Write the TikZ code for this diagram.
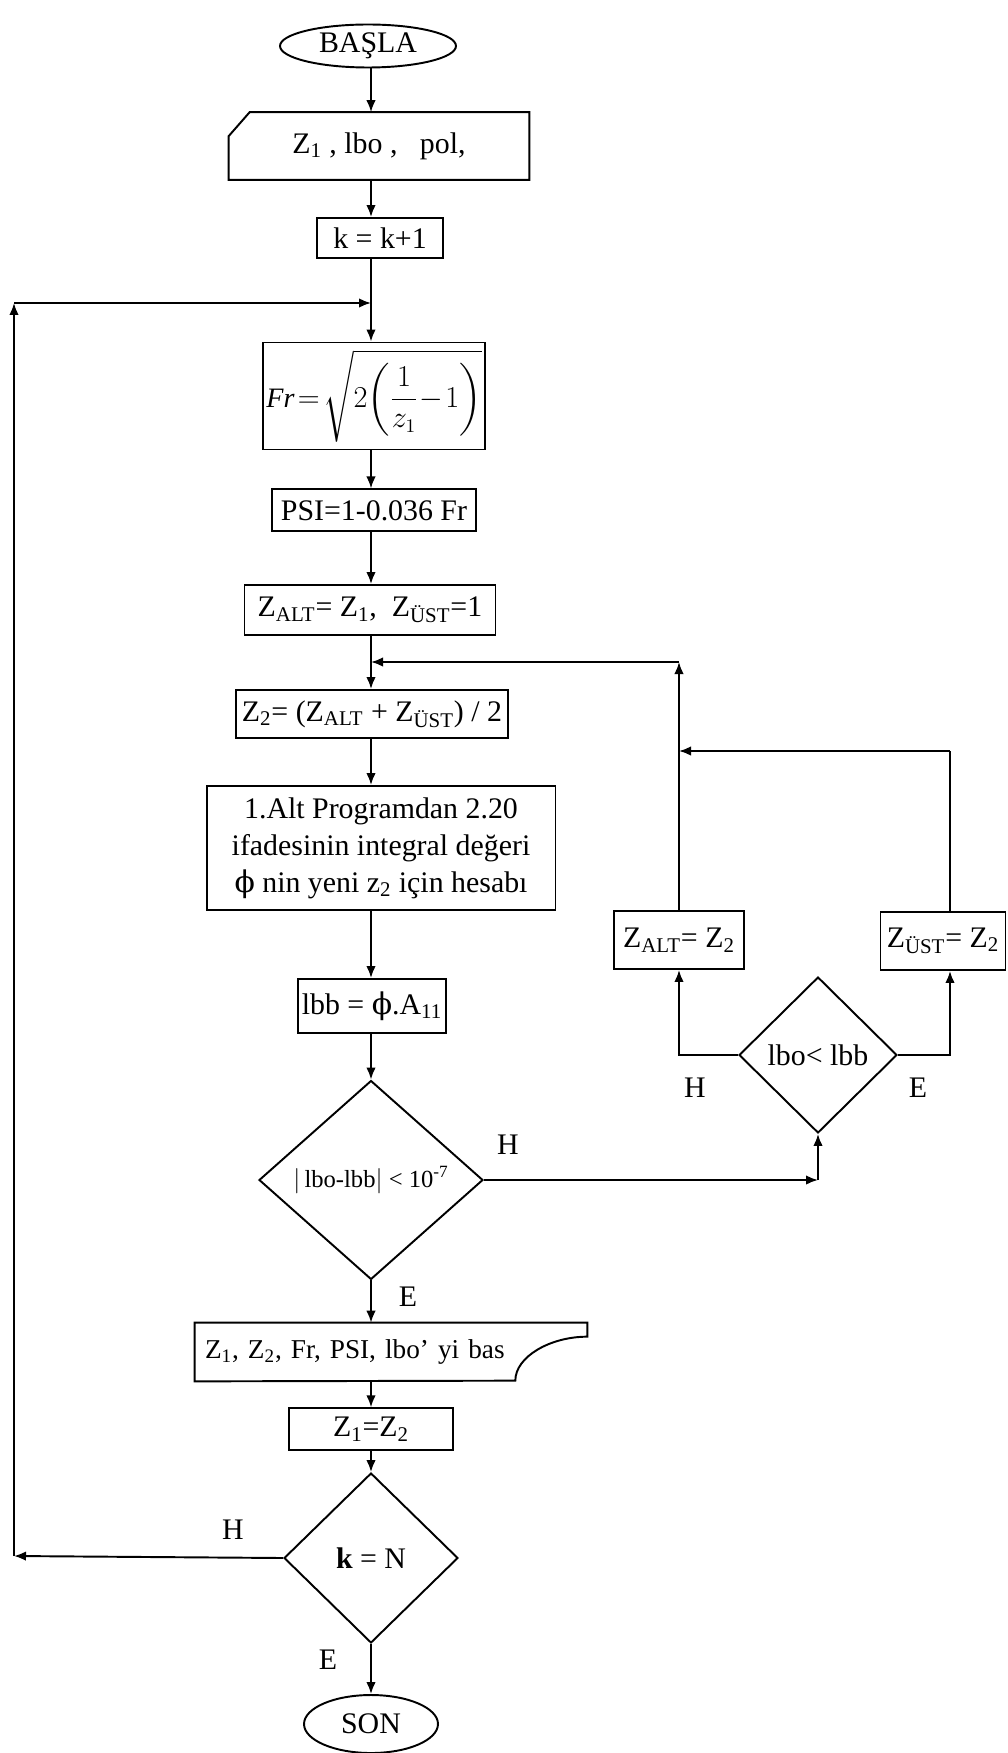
\documentclass[tikz,border=0pt]{standalone}
\usepackage{amsmath}
\usepackage{fontspec}
\setmainfont{Liberation Serif}
\newfontfamily\phifont{DejaVu Serif}
\usetikzlibrary{shapes.geometric, positioning, arrows.meta}

\newcommand{\fii}{{\phifont ϕ}}

\begin{document}
\begin{tikzpicture}[
		x=0.02cm, y=-0.02cm,
		% Kutu (işlem) stili
		kutu/.style={
			draw,
			line width=1.1pt,
			inner sep=2pt,
			font=\fontsize{17}{21}\selectfont,
			align=center
		},
		% Başla / son elipsleri
		uc/.style={
			ellipse,
			draw,
			line width=1.1pt,
			inner sep=0pt,
			font=\fontsize{17}{21}\selectfont
		},
		% Karar baklavaları
		karar/.style={
			diamond,
			draw,
			line width=1.1pt,
			inner sep=0pt,
			font=\fontsize{17}{21}\selectfont
		},
		% Çizgisiz kutular (şekli ayrıca çizilir)
		bos/.style={
			inner sep=0pt,
			font=\fontsize{17}{21}\selectfont
		},
		% Oklar
		ok/.style={
			-{Latex[length=2.4mm,width=1.9mm]},
			line width=1.1pt
		},
		cizgi/.style={
			line width=1.1pt
		},
		% H / E etiketleri
		etiket/.style={
			font=\fontsize{17}{20}\selectfont
		}
		]
		\useasboundingbox (0,0) rectangle (1007,1753);
		
		% --- ANA SÜTUN ---
		\node[uc, minimum width=3.52cm, minimum height=0.86cm] (basla) at (368,46) {BAŞLA};
		
		\node[bos, minimum width=6cm, minimum height=1.34cm] (giris) at (379,146) {Z\textsubscript{1} , lbo ,~~~pol,};
		\draw[line width=1.1pt] ([xshift=0.42cm]giris.north west) -- (giris.north east) -- (giris.south east)
		-- (giris.south west) -- ([yshift=-0.48cm]giris.north west) -- cycle;
		
		\node[kutu, minimum width=2.52cm, minimum height=0.8cm] (k1) at (380,238) {k = k+1};
		
		\node[kutu, minimum width=4.28cm, minimum height=2.14cm] (fr) at (374,396)
		{\fontsize{16}{19}\selectfont$\displaystyle \textit{Fr}\!=\!\sqrt{2\!\left(\frac{1}{z_1}\!-\!1\right)}$};
		
		\node[kutu, minimum width=4.08cm, minimum height=0.84cm, below=0.76cm of fr] (psi) {PSI=1-0.036 Fr};
		
		\node[kutu, minimum width=5.02cm, minimum height=1cm] (zalt1) at (370,610)
		{Z\textsubscript{ALT}= Z\textsubscript{1},~ Z\textsubscript{ÜST}=1};
		
		\node[kutu, minimum width=5.44cm, minimum height=0.96cm] (z2) at (372,714)
		{Z\textsubscript{2}= (Z\textsubscript{ALT} + Z\textsubscript{ÜST}) / 2};
		
		\node[kutu, minimum width=6.98cm, minimum height=2.48cm] (altprog) at (381,848)
		{1.Alt Programdan 2.20\\ifadesinin integral değeri\\\fii{} nin yeni z\textsubscript{2} için hesabı};
		
		\node[kutu, minimum width=2.8cm, minimum height=1.08cm] (lbb) at (372,1006) {lbb = \fii.A\textsubscript{11}};
		
		\node[karar, minimum width=4.48cm, minimum height=3.98cm, font=\fontsize{14}{17}\selectfont] (kosul1) at (371,1180)
		{$|$\,lbo-lbb$|$ < 10\textsuperscript{-7}};
		
		\node[bos, minimum width=7.84cm, minimum height=1.16cm, text width=7.44cm, align=left,
		font=\fontsize{15.5}{19}\selectfont] (yaz) at (391,1352)
		{Z\textsubscript{1}, Z\textsubscript{2}, Fr, PSI, lbo’ yi bas};
		\draw[line width=1.1pt] (yaz.north west) -- (yaz.north east) -- ++(0,14)
		.. controls +(-37,0) and +(0,-24) .. ++(-72,44) -- (yaz.south west) -- cycle;
		
		\node[kutu, minimum width=3.28cm, minimum height=0.84cm, below=0.52cm of yaz.south -| kosul1] (z1z2) {Z\textsubscript{1}=Z\textsubscript{2}};
		
		\node[karar, minimum width=3.48cm, minimum height=3.4cm] (kosul3) at (371,1558) {\textbf{k} = N};
		
		\node[uc, minimum width=2.68cm, minimum height=1.16cm] (son) at (371,1724) {SON};
		
		% --- SAĞ DAL ---
		\node[karar, minimum width=3.16cm, minimum height=3.12cm] (kosul2) at (818,1055) {lbo< lbb};
		\node[kutu, minimum width=2.6cm, minimum height=1.16cm] (zalt2) at (679,940) {Z\textsubscript{ALT}= Z\textsubscript{2}};
		\node[kutu, minimum width=2.5cm, minimum height=1.16cm] (zust2) at (943,941) {Z\textsubscript{ÜST}= Z\textsubscript{2}};
		
		% --- BAĞLANTI NOKTALARI ---
		\coordinate (kol) at (371,0);
		\coordinate (solust) at (14,303);
		\coordinate (solalt) at (14,1556);
		\coordinate (birles1) at (371,303);
		\coordinate (birles2) at (371,662);
		\coordinate (sagust) at (679,662);
		\coordinate (sagorta) at (679,751);
		\coordinate (sagdis) at (950,751);
		\coordinate (hkose) at (kosul2.south |- kosul1.east);
		
		% --- OKLAR ---
		\draw[ok] (basla.south -| kol) -- (giris.north -| kol);
		\draw[ok] (giris.south -| kol) -- (k1.north -| kol);
		\draw[ok] (k1.south -| kol) -- (fr.north -| kol);
		\draw[ok] (fr.south -| kol) -- (psi.north -| kol);
		\draw[ok] (psi.south -| kol) -- (zalt1.north -| kol);
		\draw[ok] (zalt1.south -| kol) -- (z2.north -| kol);
		\draw[ok] (z2.south -| kol) -- (altprog.north -| kol);
		\draw[ok] (altprog.south -| kol) -- (lbb.north -| kol);
		\draw[ok] (lbb.south -| kol) -- (kosul1.north);
		\draw[ok] (kosul1.south) -- (yaz.north -| kol);
		\draw[ok] (yaz.south -| kol) -- (z1z2.north -| kol);
		\draw[ok] (z1z2.south -| kol) -- (kosul3.north);
		\draw[ok] (kosul3.south) -- (son.north);
		
		% dış döngü (k = N değilse)
		\draw[ok] (kosul3.west) -- (solalt);
		\draw[ok] (solalt) -- (solust);
		\draw[ok] (solust) -- (birles1);
		
		% iç döngü
		\draw[ok] (kosul1.east) -- (hkose);
		\draw[ok] (hkose) -- (kosul2.south);
		\draw[ok] (kosul2.west) -| (zalt2.south);
		\draw[ok] (kosul2.east) -| (zust2.south -| sagdis);
		\draw[ok] (zalt2.north) -- (sagust);
		\draw[ok] (sagust) -- (birles2);
		\draw[cizgi] (zust2.north -| sagdis) -- (sagdis);
		\draw[ok] (sagdis) -- (sagorta);
		
		% --- ETİKETLER ---
		\node[etiket] (h1) at (508,1145) {H};
		\node[etiket] (e1) at (408,1297) {E};
		\node[etiket] (h2) at (695,1088) {H};
		\node[etiket] (e2) at (918,1088) {E};
		\node[etiket] (h3) at (233,1530) {H};
		\node[etiket] (e3) at (328,1660) {E};
		
	\end{tikzpicture}
\end{document}
